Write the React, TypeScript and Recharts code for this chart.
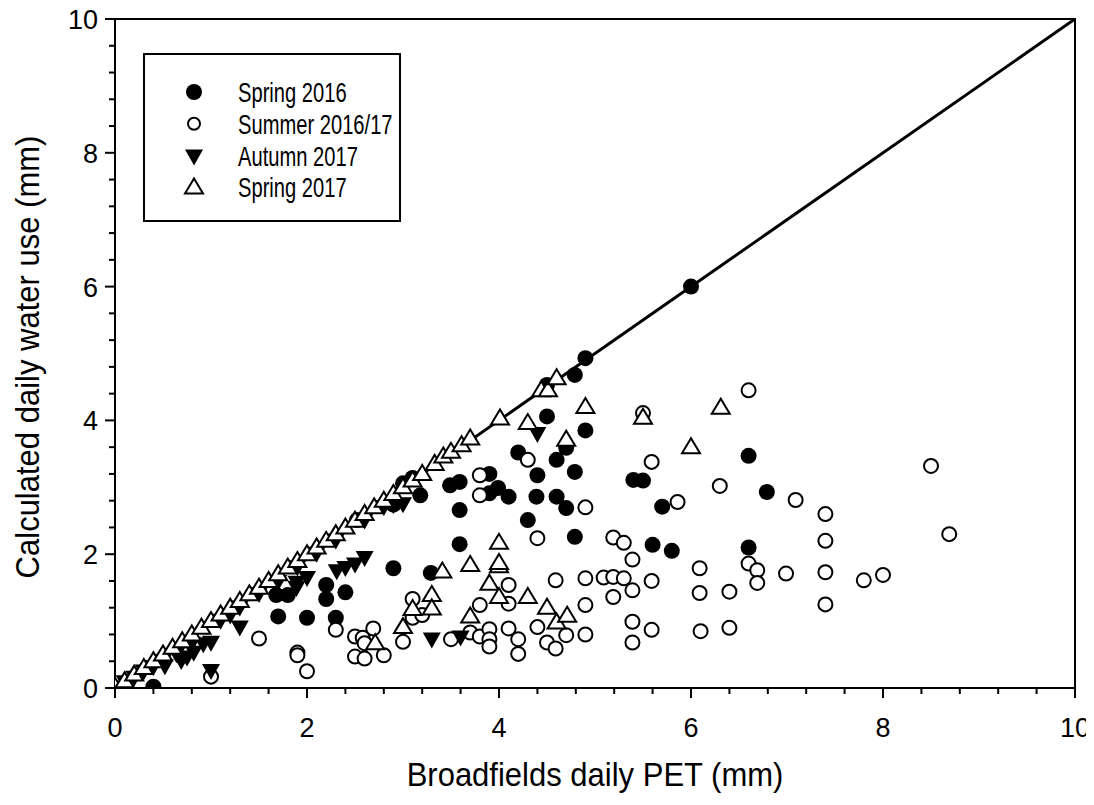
import React from 'react'
import { ReferenceArea, Scatter, ScatterChart, XAxis, YAxis } from 'recharts'

type Pt = [number, number]

// Spring 2016 (filled circles)
const spring2016: Pt[] = [
	[0.4, 0.02], [1.7, 1.07], [1.68, 1.39], [1.8, 1.39], [2.0, 1.05], [2.2, 1.54],
	[2.2, 1.33], [2.3, 1.05], [2.4, 1.43], [2.52, 2.51], [2.9, 1.79], [2.9, 2.74],
	[3.0, 3.06], [3.1, 3.14], [3.18, 2.88], [3.29, 1.72], [3.49, 3.03], [3.59, 3.08],
	[3.59, 2.66], [3.59, 2.15], [3.9, 3.2], [3.9, 2.91], [3.99, 2.99], [4.1, 2.86],
	[4.2, 3.52], [4.3, 2.51], [4.4, 3.18], [4.39, 2.86], [4.5, 4.06], [4.5, 4.53],
	[4.6, 3.41], [4.6, 2.86], [4.7, 2.69], [4.7, 3.59], [4.79, 3.23], [4.79, 2.26],
	[4.79, 4.68], [4.9, 3.85], [4.9, 4.93], [5.4, 3.11], [5.5, 3.1], [5.6, 2.14],
	[5.7, 2.71], [5.8, 2.05], [6.0, 6.0], [6.6, 3.47], [6.6, 2.1], [6.79, 2.93],
]

// Summer 2016/17 (open circles)
const summer2016: Pt[] = [
	[1.0, 0.17], [1.5, 0.74], [1.9, 0.53], [1.9, 0.49], [2.0, 0.25], [2.3, 0.87],
	[2.5, 0.77], [2.58, 0.75], [2.6, 0.67], [2.69, 0.89], [2.5, 0.47], [2.6, 0.44],
	[2.8, 0.49], [3.0, 0.69], [3.1, 1.33], [3.1, 1.05], [3.2, 1.09], [3.5, 0.73],
	[3.7, 0.83], [3.8, 0.77], [3.8, 1.24], [3.9, 0.88], [3.9, 0.73], [3.9, 0.62],
	[4.1, 1.54], [4.1, 1.26], [4.1, 0.89], [4.2, 0.73], [4.2, 0.51], [4.4, 0.91],
	[4.5, 0.68], [4.59, 1.61], [4.59, 0.59], [4.7, 0.79], [4.9, 1.64], [4.9, 1.24],
	[4.9, 0.8], [4.9, 2.7], [4.4, 2.24], [3.8, 3.18], [3.8, 2.88], [4.3, 3.41],
	[5.09, 1.65], [5.19, 1.66], [5.3, 1.64], [5.19, 1.36], [5.39, 1.46], [5.39, 1.92],
	[5.19, 2.25], [5.3, 2.17], [5.39, 0.99], [5.39, 0.68], [5.59, 0.87], [5.59, 1.6],
	[5.5, 4.11], [5.59, 3.38], [5.86, 2.78], [6.09, 1.79], [6.09, 1.42], [6.1, 0.85],
	[6.3, 3.02], [6.4, 1.44], [6.4, 0.9], [6.6, 4.45], [6.6, 1.86], [6.69, 1.76],
	[6.69, 1.57], [6.99, 1.71], [7.09, 2.81], [7.4, 2.6], [7.4, 2.2], [7.4, 1.73],
	[7.4, 1.25], [7.8, 1.61], [8.0, 1.69], [8.5, 3.32], [8.69, 2.3],
]

// Autumn 2017 (filled down triangles)
const autumn2017: Pt[] = [
	[0.0, 0.0], [0.1, 0.1], [0.2, 0.17], [0.3, 0.26], [0.4, 0.33], [0.52, 0.34],
	[0.5, 0.42], [0.64, 0.52], [0.69, 0.42], [0.75, 0.47], [0.82, 0.54], [0.8, 0.68],
	[0.92, 0.67], [1.0, 0.69], [1.0, 0.27], [1.1, 1.02], [1.2, 1.1], [1.3, 0.92],
	[1.3, 1.22], [1.5, 1.42], [1.7, 1.6], [1.89, 1.51], [1.89, 1.59], [1.9, 1.82],
	[2.0, 1.66], [2.1, 2.02], [2.31, 1.76], [2.4, 1.81], [2.5, 1.86], [2.6, 1.96],
	[2.3, 2.22], [2.6, 2.52], [2.8, 2.72], [2.9, 2.75], [3.0, 2.76], [3.3, 0.74],
	[3.6, 0.77], [4.4, 3.81],
]

// Spring 2017 (open up triangles)
const spring2017: Pt[] = [
	[0.0, 0.02], [0.14, 0.0], [0.1, 0.1], [0.2, 0.2], [0.3, 0.3], [0.4, 0.4],
	[0.5, 0.5], [0.6, 0.6], [0.7, 0.7], [0.8, 0.8], [0.9, 0.9], [1.0, 1.0],
	[1.1, 1.1], [1.2, 1.2], [1.3, 1.3], [1.4, 1.4], [1.5, 1.5], [1.6, 1.6],
	[1.7, 1.7], [1.8, 1.8], [1.9, 1.9], [2.0, 2.0], [2.1, 2.1], [2.2, 2.2],
	[2.3, 2.3], [2.4, 2.4], [2.5, 2.5], [2.6, 2.6], [2.7, 2.7], [2.8, 2.8],
	[2.9, 2.9], [3.0, 3.0], [3.1, 3.1], [3.2, 3.2], [3.33, 3.35], [3.42, 3.46],
	[3.5, 3.53], [3.61, 3.63], [3.7, 3.73], [4.01, 4.03], [4.44, 4.45], [4.51, 4.45],
	[4.6, 4.63], [2.71, 0.67], [3.0, 0.91], [3.1, 1.18], [3.3, 1.39], [3.3, 1.19],
	[3.41, 1.74], [3.7, 1.84], [3.7, 1.07], [3.9, 1.56], [4.0, 2.17], [4.0, 1.82],
	[4.0, 1.87], [4.0, 1.36], [4.3, 1.36], [4.5, 1.2], [4.6, 0.98], [4.71, 1.08],
	[4.3, 3.96], [4.9, 4.2], [4.7, 3.71], [5.5, 4.04], [6.0, 3.6], [6.31, 4.19],
]

const oneToOne: Pt[] = [[0, 0], [10, 10]]

const majorTicks = [0, 2, 4, 6, 8, 10]
const allTicks = Array.from({ length: 26 }, (_, i) => Math.round(i * 4) / 10)

const legendItems = ['Spring 2016', 'Summer 2016/17', 'Autumn 2017', 'Spring 2017']

const toXY = (pts: Pt[]) => pts.map(([x, y]) => ({ x, y }))

const FONT = '"Liberation Sans", Arial, sans-serif'

const FilledDot = ({ cx, cy }: any) => <circle cx={cx} cy={cy} r={8} fill='#000' />
const OpenDot = ({ cx, cy }: any) => (
	<circle cx={cx} cy={cy} r={7} fill='#fff' stroke='#000' strokeWidth={2} />
)
const DownTri = ({ cx, cy }: any) => (
	<polygon
		points={`${cx - 9},${cy - 6} ${cx + 9},${cy - 6} ${cx},${cy + 10}`}
		fill='#000'
	/>
)
const UpTri = ({ cx, cy }: any) => (
	<polygon
		points={`${cx},${cy - 9} ${cx - 9},${cy + 6} ${cx + 9},${cy + 6}`}
		fill='#fff'
		stroke='#000'
		strokeWidth={2}
	/>
)
const NoDot = () => null

const isMajor = (v: number) => majorTicks.some((m) => Math.abs(m - v) < 1e-6)

const XTick = ({ x, y, payload }: any) => {
	const major = isMajor(payload.value)
	return (
		<g>
			<line x1={x} x2={x} y1={y} y2={y + (major ? 10 : 6)} stroke='#000' strokeWidth={2} />
			{major && (
				<text x={x} y={y + 49} textAnchor='middle' fontSize={27} fontFamily={FONT} fill='#000'>
					{payload.value}
				</text>
			)}
		</g>
	)
}

const YTick = ({ x, y, payload }: any) => {
	const major = isMajor(payload.value)
	return (
		<g>
			<line x1={x - (major ? 10 : 6)} x2={x} y1={y} y2={y} stroke='#000' strokeWidth={2} />
			{major && (
				<text
					x={x - 17}
					y={y + 10}
					textAnchor='end'
					fontSize={27}
					fontFamily={FONT}
					fill='#000'
				>
					{payload.value}
				</text>
			)}
		</g>
	)
}

const legendMarkers = [FilledDot, OpenDot, DownTri, UpTri]

// legend text is drawn narrow and tall, as in the original figure
const LegendBox = () => (
	<svg
		width={258}
		height={169}
		style={{ position: 'absolute', left: 143, top: 53, overflow: 'visible' }}
	>
		<rect x={1} y={1} width={256} height={167} fill='#fff' stroke='#000' strokeWidth={2} />
		{legendItems.map((label, i) => {
			const Marker = legendMarkers[i]
			const cy = 39 + i * 31.8
			return (
				<g key={label}>
					{i === 1 ? (
						<circle cx={51} cy={cy} r={6} fill='#fff' stroke='#000' strokeWidth={2} />
					) : (
						<Marker cx={51} cy={cy} />
					)}
					<text
						transform={`translate(95, ${cy + 10}) scale(0.96, 1.3)`}
						fontSize={21}
						fontFamily={FONT}
						fill='#000'
					>
						{label}
					</text>
				</g>
			)
		})}
	</svg>
)

export default function App() {
	return (
		<div
			style={{
				position: 'relative',
				width: 1094,
				height: 805,
				margin: '-8px 0 0 -8px',
				fontFamily: FONT,
			}}
		>
			<ScatterChart
				width={1094}
				height={805}
				margin={{ top: 19, right: 19, left: 55, bottom: 57 }}
			>
				<XAxis
					type='number'
					dataKey='x'
					domain={[0, 10]}
					ticks={allTicks}
					interval={0}
					allowDataOverflow
					height={60}
					tickLine={false}
					tickSize={0}
					tickMargin={0}
					tick={<XTick />}
					axisLine={{ stroke: '#000', strokeWidth: 2 }}
				/>
				<YAxis
					type='number'
					dataKey='y'
					domain={[0, 10]}
					ticks={allTicks}
					interval={0}
					allowDataOverflow
					width={60}
					tickLine={false}
					tickSize={0}
					tickMargin={0}
					tick={<YTick />}
					axisLine={{ stroke: '#000', strokeWidth: 2 }}
				/>
				<ReferenceArea
					x1={0}
					x2={10}
					y1={0}
					y2={10}
					fill='none'
					stroke='#000'
					strokeWidth={2}
				/>
				<Scatter
					data={toXY(oneToOne)}
					line={{ stroke: '#000', strokeWidth: 3 }}
					shape={NoDot}
					isAnimationActive={false}
				/>
				<Scatter data={toXY(spring2016)} shape={FilledDot} isAnimationActive={false} />
				<Scatter data={toXY(summer2016)} shape={OpenDot} isAnimationActive={false} />
				<Scatter data={toXY(autumn2017)} shape={DownTri} isAnimationActive={false} />
				<Scatter data={toXY(spring2017)} shape={UpTri} isAnimationActive={false} />
			</ScatterChart>

			<LegendBox />

			<div
				style={{
					position: 'absolute',
					left: 28,
					top: 357,
					transform: 'translate(-50%, -50%) rotate(-90deg) scale(1, 1.1)',
					whiteSpace: 'nowrap',
					fontSize: 31,
				}}
			>
				Calculated daily water use (mm)
			</div>
			<div
				style={{
					position: 'absolute',
					left: 595,
					top: 775,
					transform: 'translate(-50%, -50%) scale(1, 1.1)',
					whiteSpace: 'nowrap',
					fontSize: 31,
				}}
			>
				Broadfields daily PET (mm)
			</div>
		</div>
	)
}
